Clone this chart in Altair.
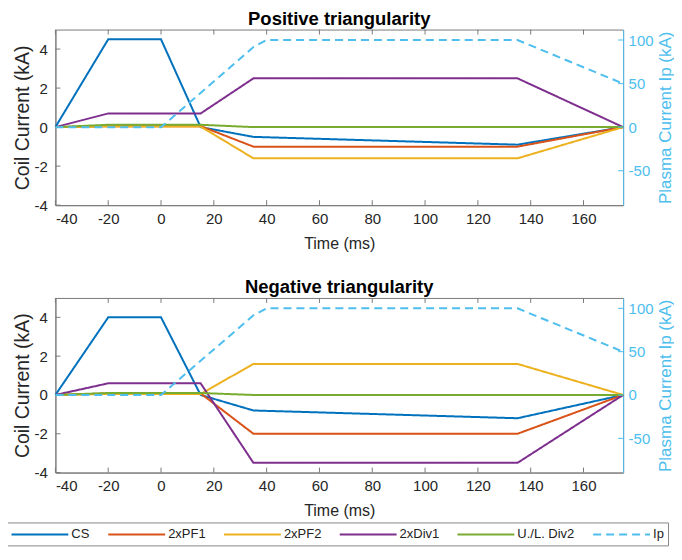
import altair as alt
import pandas as pd

# ---- data ----
times = [-40, -20, 0, 15, 35, 135, 175]
series = ["CS", "2xPF1", "2xPF2", "2xDiv1", "U./L. Div2", "Ip"]
colors = ["#0072BD", "#D95319", "#EDB120", "#7E2F8E", "#77AC30", "#4DBEEE"]
dashes = [[1, 0], [1, 0], [1, 0], [1, 0], [1, 0], [8, 5]]

pos_cs = [0, 4.5, 4.5, 0, -0.5, -0.9, 0]
pos_pf1 = [0, 0.05, 0.05, 0.05, -1.0, -1.0, 0]
pos_pf2 = [0, 0.03, 0.03, 0.03, -1.6, -1.6, 0]
pos_div1 = [0, 0.7, 0.7, 0.7, 2.5, 2.5, 0]
pos_div2 = [0, 0.12, 0.12, 0.12, 0, 0, 0]

neg_cs = [0, 4.0, 4.0, 0, -0.8, -1.2, 0]
neg_pf1 = [0, 0.08, 0.08, 0.08, -2.0, -2.0, 0]
neg_pf2 = [0, 0.05, 0.05, 0.05, 1.6, 1.6, 0]
neg_div1 = [0, 0.6, 0.6, 0.6, -3.5, -3.5, 0]
neg_div2 = [0, 0.1, 0.1, 0.1, 0, 0, 0]

ip_times = [-40, 0, 35, 40, 135, 175]
ip_values = [0, 0, 92, 100, 100, 50]

x_ticks = [-40, -20, 0, 20, 40, 60, 80, 100, 120, 140, 160]
y_ticks = [-4, -2, 0, 2, 4]
ip_ticks = [-50, 0, 50, 100]

W = 569
FONT = "Liberation Sans"
AX = "#262626"
BOX = "#7a7a7a"
IPC = "#4DBEEE"
LBL = "'' + datum.value"

leg = alt.Legend(
    title=None, orient="none", legendX=-49, legendY=494, direction="horizontal",
    columns=6, symbolType="M-1,0H7.14", symbolSize=196, symbolStrokeWidth=2,
    labelFont=FONT, labelFontSize=13, labelOffset=45, columnPadding=14,
    padding=4, strokeColor="#888", fillColor="white", labelColor="#222",
)

xaxis = alt.Axis(
    values=x_ticks, title="Time (ms)", tickSize=0, labelPadding=6, titlePadding=9,
    labelFontSize=15, titleFontSize=16, titleFontWeight="normal", labelExpr=LBL,
    labelColor=AX, titleColor=AX, domainColor=BOX, grid=False,
    labelFont=FONT, titleFont=FONT)
yaxis = alt.Axis(
    values=y_ticks, title="Coil Current (kA)", tickSize=0, labelPadding=8,
    titlePadding=2, labelFontSize=15, titleFontSize=19.5, titleFontWeight="normal",
    labelExpr=LBL, labelColor=AX, titleColor=AX, domainColor=BOX, grid=False,
    labelFont=FONT, titleFont=FONT)
ipaxis = alt.Axis(
    orient="right", values=ip_ticks, title="Plasma Current Ip (kA)", tickSize=0,
    labelPadding=5, titlePadding=4, titleAngle=270, titleBaseline="top",
    labelFontSize=15, titleFontSize=17, titleFontWeight="normal", labelExpr=LBL,
    labelColor=IPC, titleColor=IPC, domainColor=IPC, grid=False,
    labelFont=FONT, titleFont=FONT)


def panel(title, coil, h):
    rows = []
    for name, vals in zip(series[:5], coil):
        for t, v in zip(times, vals):
            rows.append({"series": name, "t": t, "v": v})
    df = pd.DataFrame(rows)
    ip_df = pd.DataFrame({"series": "Ip", "t": ip_times, "ip": ip_values})
    xt = pd.DataFrame({"t": x_ticks})
    yt = pd.DataFrame({"v": y_ticks})
    it = pd.DataFrame({"ip": ip_ticks})

    xscale = alt.Scale(domain=[-40, 175], nice=False, zero=False)
    yscale = alt.Scale(domain=[-4, 5], nice=False)
    ipscale = alt.Scale(domain=[-89.5, 112], nice=False)
    color = alt.Color("series:N", scale=alt.Scale(domain=series, range=colors), legend=leg)
    dash = alt.StrokeDash("series:N", scale=alt.Scale(domain=series, range=dashes), legend=leg)

    lines = alt.Chart(df).mark_line(strokeWidth=2).encode(
        x=alt.X("t:Q", scale=xscale, axis=xaxis),
        y=alt.Y("v:Q", scale=yscale, axis=yaxis),
        color=color, strokeDash=dash, order=alt.Order("t:Q"),
    )
    bt = alt.Chart(xt).mark_rule(color=BOX).encode(
        x=alt.X("t:Q", scale=xscale, axis=xaxis), y=alt.value(h), y2=alt.value(h - 5))
    tt = alt.Chart(xt).mark_rule(color=BOX).encode(
        x=alt.X("t:Q", scale=xscale, axis=xaxis), y=alt.value(0), y2=alt.value(5))
    lt = alt.Chart(yt).mark_rule(color=BOX).encode(
        y=alt.Y("v:Q", scale=yscale, axis=yaxis), x=alt.value(0), x2=alt.value(5))
    left = alt.layer(lines, bt, tt, lt)

    ipl = alt.Chart(ip_df).mark_line(strokeWidth=2).encode(
        x=alt.X("t:Q", scale=xscale, axis=xaxis),
        y=alt.Y("ip:Q", scale=ipscale, axis=ipaxis),
        color=color, strokeDash=dash,
    )
    rt = alt.Chart(it).mark_rule(color=IPC).encode(
        y=alt.Y("ip:Q", scale=ipscale, axis=ipaxis), x=alt.value(W), x2=alt.value(W - 5))
    right = alt.layer(ipl, rt)

    return alt.layer(left, right).resolve_scale(y="independent").properties(
        width=W, height=h,
        title=alt.TitleParams(title, fontSize=18.5, fontWeight="bold", font=FONT,
                              color="black", offset=1),
    )


top = panel("Positive triangularity", [pos_cs, pos_pf1, pos_pf2, pos_div1, pos_div2], 176)
bot = panel("Negative triangularity", [neg_cs, neg_pf1, neg_pf2, neg_div1, neg_div2], 175)

chart = alt.vconcat(top, bot, spacing=25).properties(
    padding={"left": -2.5, "top": 0, "right": 0, "bottom": 0}
).configure_view(stroke=BOX, strokeWidth=1)

chart.save("out.html", embed_options={"renderer": "svg", "actions": False})
